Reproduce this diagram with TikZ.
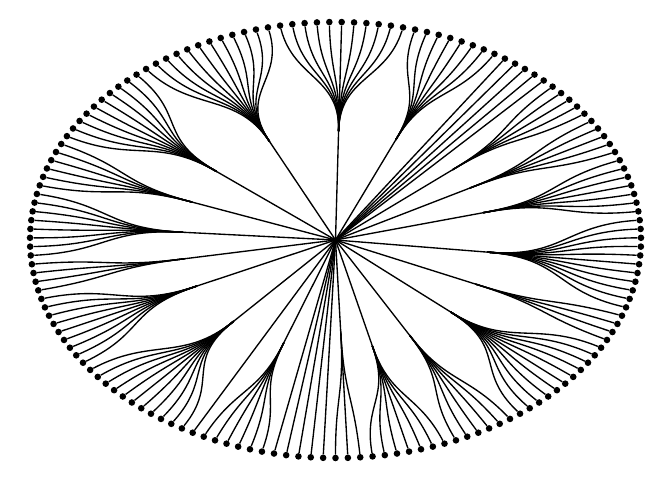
\documentclass[tikz,border=0pt]{standalone}
\begin{document}
\begin{tikzpicture}[x=1pt,y=-1pt,
  linkline/.style={line width=1.35pt, black},
  leafdot/.style={circle, fill=black, draw=none, inner sep=0pt, minimum size=6.6pt}]
\def\cx{335.5}\def\cy{240}\def\rx{305.5}\def\ry{218}\def\stp{2.3225806}
\useasboundingbox (0,0) rectangle (672,480);
\coordinate (root) at (\cx,\cy);
% leaves
\foreach \k in {0,...,154}{
  \pgfmathsetmacro{\angL}{(\k+0.5)*\stp}
  \node[leafdot] (leaf\k) at ({\cx+\rx*sin(\angL)},{\cy-\ry*cos(\angL)}) {};
}
\newcommand{\drawgroup}[4]{%
  \pgfmathsetmacro{\angB}{((#2+#3)/2+0.5)*\stp}
  \pgfmathsetmacro{\rmid}{(#4+1)/2}
  \coordinate (#1) at ({\cx+\rx*#4*sin(\angB)},{\cy-\ry*#4*cos(\angB)});
  \draw[linkline] (root) -- (#1);
  \foreach \k in {#2,...,#3}{
    \pgfmathsetmacro{\angL}{(\k+0.5)*\stp}
    \pgfmathtruncatemacro{\kk}{mod(\k+155,155)}
    \draw[linkline] (#1) .. controls ({\cx+\rx*\rmid*sin(\angB)},{\cy-\ry*\rmid*cos(\angB)}) and ({\cx+\rx*\rmid*sin(\angL)},{\cy-\ry*\rmid*cos(\angL)}) .. (leaf\kk);
  }
}
\newcommand{\directleaves}[2]{%
  \foreach \k in {#1,...,#2}{ \draw[linkline] (root) -- (leaf\k); }
}
\drawgroup{g1}{-5}{5}{0.5}
\drawgroup{g2}{6}{13}{0.5}
\directleaves{14}{18}
\drawgroup{g3}{19}{23}{0.5}
\drawgroup{g4}{24}{28}{0.5}
\drawgroup{g5}{29}{35}{0.5}
\drawgroup{g6}{36}{46}{0.5}
\drawgroup{g7}{47}{50}{0.5}
\drawgroup{g8}{51}{61}{0.5}
\drawgroup{g9}{62}{67}{0.5}
\drawgroup{g10}{68}{74}{0.5}
\drawgroup{g11b}{75}{77}{0.42}
\directleaves{78}{82}
\drawgroup{g11}{83}{88}{0.5}
\directleaves{89}{89}
\drawgroup{g12}{90}{100}{0.5}
\drawgroup{g13}{101}{109}{0.5}
\drawgroup{g14}{110}{113}{0.5}
\drawgroup{g15}{114}{121}{0.5}
\drawgroup{g16}{122}{127}{0.5}
\drawgroup{g17}{128}{137}{0.5}
\drawgroup{g18}{138}{149}{0.5}
\end{tikzpicture}
\end{document}
